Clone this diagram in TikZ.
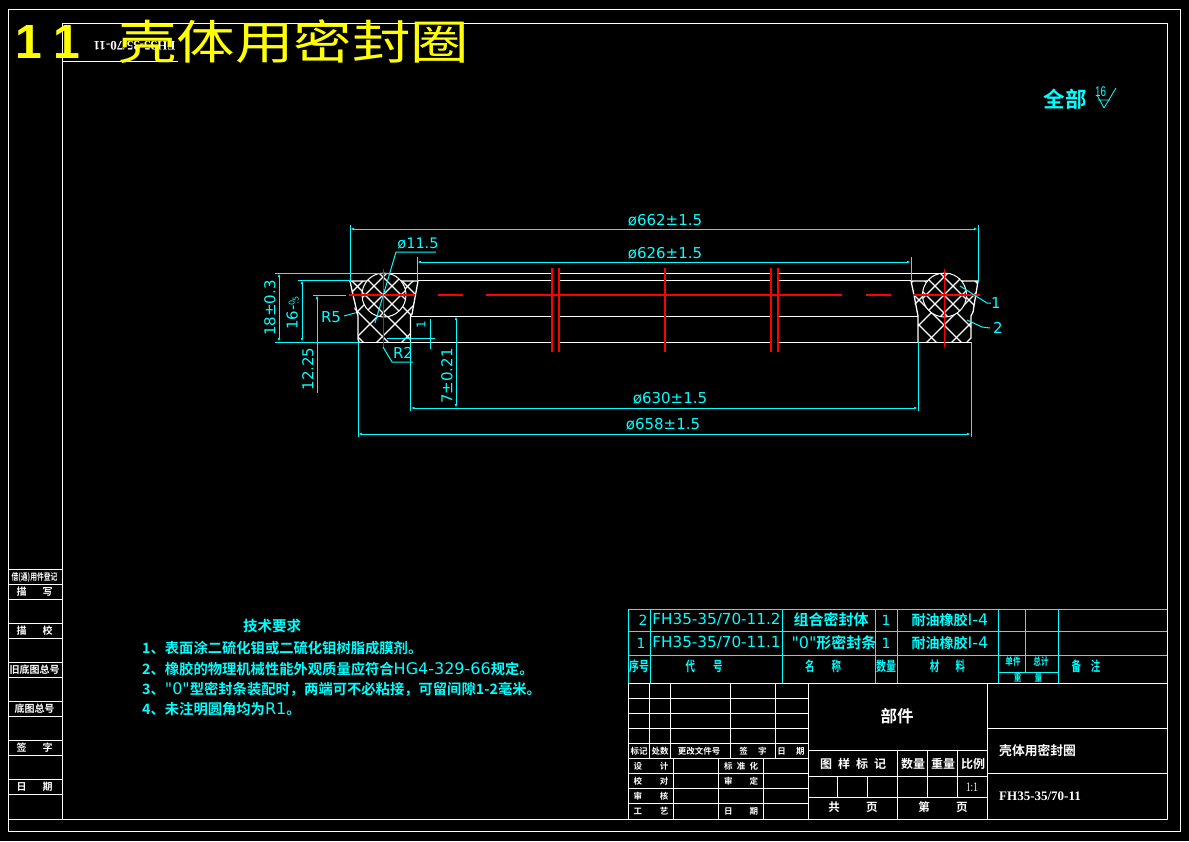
\documentclass[tikz,border=0pt]{standalone}
\usepackage{fontspec}
\usetikzlibrary{arrows.meta}
\setmainfont{Noto Sans CJK SC}[BoldFont={Noto Sans CJK SC Bold}]
\setsansfont{Liberation Sans}
\newfontfamily\lat{DejaVu Sans}
\newfontfamily\rom{Liberation Serif}
\definecolor{cy}{RGB}{0,255,255}
\definecolor{ye}{RGB}{255,255,0}
\definecolor{rd}{RGB}{255,0,0}
\tikzset{
 wl/.style={draw=white,line width=1pt},
 cl/.style={draw=cy,line width=1pt},
 rl/.style={draw=rd,line width=1.15pt},
 hatch/.style={draw=white,line width=1.1pt},
 dimar/.style={cl,{Latex[length=4pt,width=2.5pt]}-{Latex[length=4pt,width=2.5pt]}},
 dimt/.style={text=cy,font=\lat\fontsize{15}{15}\selectfont,inner sep=0pt},
 tc/.style={text=cy,font=\bfseries\fontsize{15}{16}\selectfont,inner sep=0pt},
 tl/.style={text=cy,font=\bfseries\fontsize{10.5}{12}\selectfont,inner sep=0pt},
 tw/.style={text=white,font=\bfseries\fontsize{10}{11}\selectfont,inner sep=0pt},
 ts/.style={text=white,font=\bfseries\fontsize{8.5}{9}\selectfont,inner sep=0pt},
 req/.style={text=cy,font=\bfseries\fontsize{14.3}{15}\selectfont,inner sep=0pt,anchor=west},
}
\newcommand{\hgtxt}[1]{{\mdseries\lat\fontsize{16}{16}\selectfont #1}}
\begin{document}
\begin{tikzpicture}[x=1pt,y=-1pt,line join=round]
\useasboundingbox[fill=black] (0,0) rectangle (1189,841);
% frames
\draw[wl] (8,9) rectangle (1180,831);
\draw[wl] (62,23) rectangle (1167,819);
\draw[wl] (8,819) -- (62,819);
\draw[wl] (62,61) -- (178,61);
\foreach \y in {569,584,599,623,638,662,677,701,716,740,755,779,794}{\draw[wl] (8,\y) -- (62,\y);}
\node[tw] (l1) at (34.5,577) {\scalebox{.8}[1.1]{\fontsize{8.5}{9}\selectfont 借(通)用件登记}};
\node[tw] (l2) at (34.5,592) {描\hspace{1.6em}写};
\node[tw] (l3) at (34.5,631) {描\hspace{1.6em}校};
\node[tw] (l4) at (34.5,670) {旧底图总号};
\node[tw] (l5) at (34.5,709) {底图总号};
\node[tw] (l6) at (34.5,748) {签\hspace{1.6em}字};
\node[tw] (l7) at (34.5,787) {日\hspace{1.6em}期};
% rotated drawing number
\node[text=white,font=\bfseries\rom\fontsize{13}{13}\selectfont,inner sep=0pt,rotate=180] (tn) at (134.5,46) {FH35-35/70-11};
% title
\node[text=ye,font=\sffamily\bfseries\fontsize{48}{48}\selectfont,inner sep=0pt] (t1) at (29,42) {1};
\node[text=ye,font=\sffamily\bfseries\fontsize{48}{48}\selectfont,inner sep=0pt] (t2) at (67,42) {1};
\node[text=ye,font=\fontsize{58.5}{58}\selectfont,inner sep=0pt,anchor=west] (t3) at (118,42) {\scalebox{1}[.8]{壳体用密封圈}};
% roughness
\node[text=cy,font=\bfseries\fontsize{21.5}{22}\selectfont,inner sep=0pt] (qb) at (1065,99) {全部};
\node[text=cy,font=\sffamily\fontsize{14}{14}\selectfont,inner sep=0pt] (r16) at (1100.5,92) {\scalebox{.7}[1]{16}};
\draw[cl,line width=.8pt] (1097,95) -- (1104,108) -- (1116,88) (1098,100) -- (1110,100);
% section left
\begin{scope}
 \clip (350,281) -- (418,281) -- (412,314) -- (410.5,316) -- (410.5,342) -- (358,342) -- (358,316) -- (355,312) -- cycle;
 \foreach \k in {-10,...,10}{
  \draw[hatch] (306+\k*25,260) -- (306+\k*25+100,360);
  \draw[hatch] (434+\k*25,260) -- (434+\k*25-100,360);
 }
\end{scope}
\fill[black] (384,295) circle (22);
\begin{scope}
 \clip (362,295) arc (180:0:22) arc (360:295:22) .. controls (389,272.5) and (379,272.5) .. (374.7,275) arc (245:180:22) -- cycle;
 \foreach \k in {-10,...,10}{
  \draw[hatch] (328+\k*18,240) -- (328+\k*18+120,360);
  \draw[hatch] (438+\k*18,240) -- (438+\k*18-120,360);
 }
\end{scope}
\draw[wl] (362,295) arc (180:0:22) arc (360:295:22) .. controls (389,272.5) and (379,272.5) .. (374.7,275) arc (245:180:22) -- cycle;
\draw[wl,line width=1.3pt] (367,281) -- (350,281) -- (353,295) -- (358,316) -- (358,339) -- (359,342)
  (401,281) -- (418,281) -- (412,314) -- (410.5,316) -- (410.5,342);
% section right
\begin{scope}
 \clip (911,281) -- (978,281) -- (973,312) -- (971,316) -- (971,338) -- (967,342) -- (918,342) -- (918,316) -- (916,312) -- cycle;
 \foreach \k in {-10,...,10}{
  \draw[hatch] (879+\k*25,260) -- (879+\k*25+100,360);
  \draw[hatch] (1009+\k*25,260) -- (1009+\k*25-100,360);
 }
\end{scope}
\fill[black] (944.5,295) circle (22);
\begin{scope}
 \clip (922.5,295) arc (180:0:22) arc (360:295:22) .. controls (949.5,272.5) and (939.5,272.5) .. (935.2,275) arc (245:180:22) -- cycle;
 \foreach \k in {-10,...,10}{
  \draw[hatch] (889+\k*18,240) -- (889+\k*18+120,360);
  \draw[hatch] (999+\k*18,240) -- (999+\k*18-120,360);
 }
\end{scope}
\draw[wl] (922.5,295) arc (180:0:22) arc (360:295:22) .. controls (949.5,272.5) and (939.5,272.5) .. (935.2,275) arc (245:180:22) -- cycle;
\draw[wl,line width=1.3pt] (928,281) -- (911,281) -- (914,295) -- (918,316) -- (918,342)
  (961,281) -- (978,281) -- (973,312) -- (971,316) -- (971,338) -- (967,342);
% long lines
\draw[cl] (275,273) -- (390,273) (298,280) -- (350,280) (275,342) -- (358,342);
\draw[wl] (390,273) -- (552,273) (559,273) -- (771,273) (778,273) -- (948,273);
\draw[wl] (418,280) -- (552,280) (559,280) -- (771,280) (778,280) -- (911,280);
\draw[wl] (410.5,316) -- (552,316) (559,316) -- (771,316) (778,316) -- (918,316);
\draw[wl] (358,342) -- (552,342) (559,342) -- (771,342) (778,342) -- (971,342);
% red lines
\draw[rl] (383.5,269) -- (383.5,348) (349,295) -- (415,295);
\draw[rl] (944.5,269) -- (944.5,347) (913,295) -- (980,295);
\draw[rl] (552,268) -- (552,352) (559,268) -- (559,352) (665,268) -- (665,352) (771,268) -- (771,352) (778,268) -- (778,352);
\draw[rl] (438,295) -- (463,295) (486,295) -- (841.5,295) (866,295) -- (891,295);
% dimensions
\coordinate (a1) at (350,229); \coordinate (a2) at (978,229);
\draw[dimar] (a1) -- (a2);
\draw[cl] (350,225) -- (350,282) (978,225) -- (978,281);
\node[dimt] (d662) at (665,220) {ø662±1.5};
\coordinate (b1) at (417,262); \coordinate (b2) at (911,262);
\draw[dimar] (b1) -- (b2);
\draw[cl] (417,257) -- (417,281) (911,257) -- (911,281);
\node[dimt] (d626) at (665,253) {ø626±1.5};
\coordinate (c1) at (410.5,408); \coordinate (c2) at (918,408);
\draw[dimar] (c1) -- (c2);
\draw[cl] (410.5,342) -- (410.5,411) (918,342) -- (918,411);
\node[dimt] (d630) at (670,398) {ø630±1.5};
\coordinate (e1) at (358,434); \coordinate (e2) at (971,434);
\draw[dimar] (e1) -- (e2);
\draw[cl] (358,342) -- (358,437) (971,342) -- (971,437);
\node[dimt] (d658) at (663,424) {ø658±1.5};
\draw[dimar] (279,273) -- (279,342);
\draw[dimar] (302,280) -- (302,342);
\draw[cl,{Latex[length=4pt,width=2.5pt]}-] (317,295) -- (317,393);
\draw[cl] (313,295) -- (346,295);
\node[dimt] [rotate=90] (d18) at (270,308) {18±0.3};
\node[dimt,rotate=90] (d16) at (292.5,313) {16-\raisebox{3pt}{\fontsize{8}{8}\selectfont0}\hspace{-4pt}\raisebox{-1pt}{\fontsize{8}{8}\selectfont.5}};
\node[dimt,rotate=90] (d12) at (308,369) {12.25};
\node[dimt] (r5) at (331,317) {R5};
\draw[cl] (344,316) -- (355,313);
\node[dimt,font=\lat\fontsize{14.5}{15}\selectfont] (d115) at (418,244) {ø11.5};
\draw[cl] (436,252) -- (396,252) -- (375,323);
\node[dimt] (r2) at (403,353) {R2};
\draw[cl] (383,347) -- (392,362) -- (413,362);
\node[dimt,rotate=90,font=\lat\fontsize{12}{12}\selectfont] (d1) at (421,325) {1};
\draw[cl] (430,319) -- (430,349) (387,338) -- (435,338);
\node[dimt,rotate=90] (d7) at (447,376) {7±0.21};
\draw[dimar] (456,316) -- (456,408);
\node[dimt] (n1) at (996,303) {1};
\draw[cl] (960,286) -- (987,303) -- (991,303);
\node[dimt] (n2) at (998,328) {2};
\draw[cl] (967,320) -- (982,327) -- (990,328);
% requirements
\node[req,anchor=center,font=\bfseries\fontsize{14.5}{15}\selectfont] (rq0) at (272,626) {技术要求};
\node[req] (rq1) at (142,648) {1、表面涂二硫化钼或二硫化钼树脂成膜剂。};
\node[req] (rq2) at (142,669) {2、橡胶的物理机械性能外观质量应符合\hgtxt{HG4-329-66}规定。};
\node[req] (rq3) at (142,689) {3、\hgtxt{"0"}型密封条装配时，两端可不必粘接，可留间隙1-2毫米。};
\node[req] (rq4) at (142,709) {4、未注明圆角均为\hgtxt{R1}。};
% parts table
\draw[cl] (628,609) -- (1167,609) (628,631) -- (1167,631) (628,655) -- (1167,655);
\draw[cl] (628,609) -- (628,683.5) (650,609) -- (650,683.5) (782.5,609) -- (782.5,683.5) (875,609) -- (875,683.5) (897,609) -- (897,683.5) (998.5,609) -- (998.5,683.5) (1025,609) -- (1025,672) (1058.5,609) -- (1058.5,683.5) (998.5,672) -- (1058.5,672);
\node[dimt,font=\lat\fontsize{14}{14}\selectfont] (p21) at (643,620) {2};
\node[dimt,font=\lat\fontsize{15.2}{14}\selectfont] (p22) at (716.5,620) {FH35-35/70-11.2};
\node[tc] (p23) at (831,620) {组合密封体};
\node[dimt,font=\lat\fontsize{14}{14}\selectfont] (p24) at (886,620) {1};
\node[tc,font=\bfseries\fontsize{14}{15}\selectfont] (p25) at (950,620) {耐油橡胶\hgtxt{I-4}};
\node[dimt,font=\lat\fontsize{14}{14}\selectfont] (p11) at (641,643) {1};
\node[dimt,font=\lat\fontsize{15.2}{14}\selectfont] (p12) at (716.5,643) {FH35-35/70-11.1};
\node[tc] (p13) at (834,643) {\hgtxt{"0"}形密封条};
\node[dimt,font=\lat\fontsize{14}{14}\selectfont] (p14) at (886,643) {1};
\node[tc,font=\bfseries\fontsize{14}{15}\selectfont] (p15) at (950,643) {耐油橡胶\hgtxt{I-4}};
\node[tl] (h1) at (639,666) {\scalebox{.95}[1.3]{序号}};
\node[tl] (h2) at (704,666) {\scalebox{.9}[1.3]{代\hspace{20pt}号}};
\node[tl] (h3) at (823,666) {\scalebox{.9}[1.3]{名\hspace{19pt}称}};
\node[tl] (h4) at (886,666) {\scalebox{.95}[1.3]{数量}};
\node[tl] (h5) at (947.5,666) {\scalebox{.9}[1.3]{材\hspace{18pt}料}};
\node[tl,font=\bfseries\fontsize{8}{9}\selectfont] (h6) at (1013,662) {\scalebox{.95}[1.3]{单件}};
\node[tl,font=\bfseries\fontsize{8}{9}\selectfont] (h7) at (1041,662) {\scalebox{.95}[1.3]{总计}};
\node[tl,font=\bfseries\fontsize{8}{9}\selectfont] (h8) at (1028,677.5) {\scalebox{.95}[1.2]{重\hspace{14pt}量}};
\node[tl] (h9) at (1086,666) {\scalebox{.9}[1.3]{备\hspace{11pt}注}};
% title block
\foreach \y in {683.5,698.5,713.5,728.5,743.5,758.5,773.5,788.5,803.5}{\draw[wl] (628,\y) -- (808.5,\y);}
\draw[wl] (808.5,683.5) -- (1167,683.5);
\draw[wl] (628,683.5) -- (628,819) (649.5,683.5) -- (649.5,758.5) (670.5,683.5) -- (670.5,758.5) (730.5,683.5) -- (730.5,758.5) (775.5,683.5) -- (775.5,758.5) (808.5,683.5) -- (808.5,819);
\draw[wl] (673.5,758.5) -- (673.5,819) (718.5,758.5) -- (718.5,819) (763.5,758.5) -- (763.5,819);
\draw[wl] (808.5,750.5) -- (987.5,750.5) (808.5,776.5) -- (987.5,776.5) (808.5,797.5) -- (987.5,797.5);
\draw[wl] (897.5,750.5) -- (897.5,819) (927.5,750.5) -- (927.5,797.5) (957.5,750.5) -- (957.5,797.5) (837.5,776.5) -- (837.5,797.5) (867.5,776.5) -- (867.5,797.5) (987.5,683.5) -- (987.5,819);
\draw[wl] (987.5,728.5) -- (1167,728.5) (987.5,773.5) -- (1167,773.5);
\node[ts] (b1a) at (639,751) {标记};
\node[ts] (b1b) at (660,751) {处数};
\node[ts] (b1c) at (699,751) {更改文件号};
\node[ts] (b1d) at (753,751) {签\hspace{1.2em}字};
\node[ts] (b1e) at (791,751) {日\hspace{1.2em}期};
\node[ts] (b2a) at (651,766) {设\hspace{2.1em}计};
\node[ts] (b2b) at (741,766) {标\hspace{.5em}准\hspace{.5em}化};
\node[ts] (b3a) at (651,781) {校\hspace{2.1em}对};
\node[ts] (b3b) at (741,781) {审\hspace{2em}定};
\node[ts] (b4a) at (651,796) {审\hspace{2.1em}核};
\node[ts] (b5a) at (651,811) {工\hspace{2.1em}艺};
\node[ts] (b5b) at (741,811) {日\hspace{2em}期};
\node[text=white,font=\bfseries\fontsize{16.5}{17}\selectfont,inner sep=0pt] (bj) at (897,716) {部件};
\node[tw,font=\bfseries\fontsize{12}{13}\selectfont] (bm) at (853,764) {图\hspace{.5em}样\hspace{.5em}标\hspace{.5em}记};
\node[tw,font=\bfseries\fontsize{12}{13}\selectfont] (bn) at (913,764) {数量};
\node[tw,font=\bfseries\fontsize{12}{13}\selectfont] (bw) at (943,764) {重量};
\node[tw,font=\bfseries\fontsize{12}{13}\selectfont] (bb) at (973,764) {比例};
\node[text=white,font=\rom\fontsize{13}{13}\selectfont,inner sep=0pt] (bs) at (972,787) {\scalebox{.7}[1]{1:1}};
\node[tw,font=\bfseries\fontsize{11.5}{13}\selectfont] (bg) at (853,807.5) {共\hspace{2.3em}页};
\node[tw,font=\bfseries\fontsize{11.5}{13}\selectfont] (bd) at (943,807.5) {第\hspace{2.3em}页};
\node[tw,font=\bfseries\fontsize{12.8}{13}\selectfont,anchor=west] (bt) at (999,751) {壳体用密封圈};
\node[text=white,font=\bfseries\rom\fontsize{13}{13}\selectfont,inner sep=0pt,anchor=west] (bc) at (999,796) {FH35-35/70-11};
\end{tikzpicture}
\end{document}
